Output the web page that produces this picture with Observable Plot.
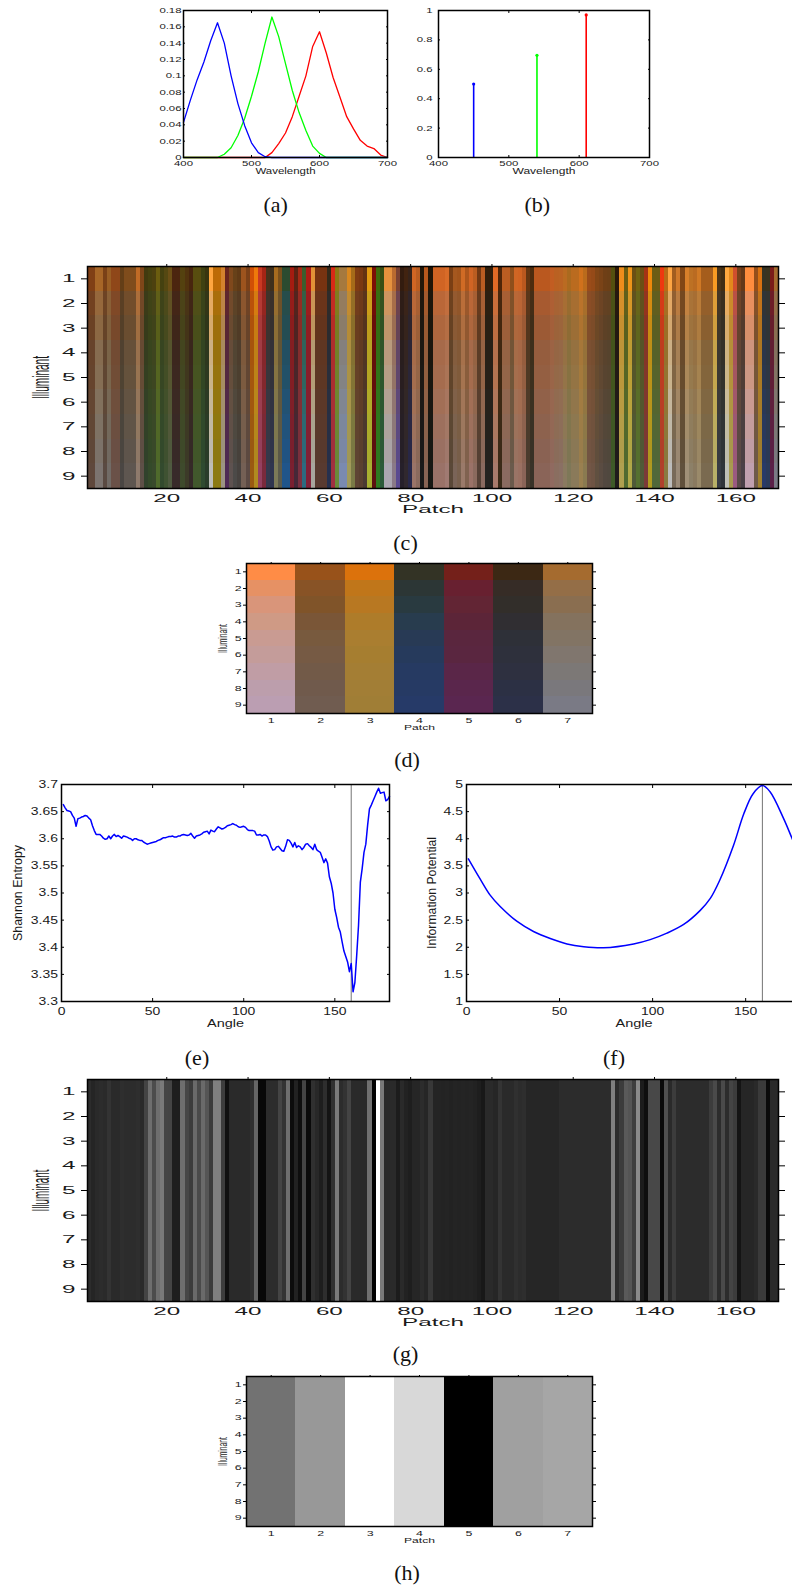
<!DOCTYPE html>
<html><head><meta charset="utf-8">
<script src="https://cdn.jsdelivr.net/npm/d3@7"></script>
<script src="https://cdn.jsdelivr.net/npm/@observablehq/plot@0.6"></script>
<style>
html,body{margin:0;padding:0;background:#fff;overflow:hidden;width:792px;height:1587px}
#page{position:relative;width:792px;height:1587px;overflow:hidden}
.cap{position:absolute;font-family:"Liberation Serif";font-size:22px;color:#111;transform:translate(-50%,-50%);white-space:nowrap}
</style></head><body><div id="page"></div>
<script>
// ---------- data ----------
const wavelengths = [400,410,420,430,440,450,460,470,480,490,500,510,520,530,540,550,560,570,580,590,600,610,620,630,640,650,660,670,680,690,700];
const sensorBlue  = [.043,.07,.095,.117,.143,.165,.14,.10,.066,.039,.018,.006,.001,0,0,0,0,0,0,0,0,0,0,0,0,0,0,0,0,0,0];
const sensorGreen = [0,0,0,0,0,0,.004,.012,.027,.048,.075,.105,.14,.172,.148,.115,.082,.055,.033,.014,.005,0,0,0,0,0,0,0,0,0,0];
const sensorRed   = [0,0,0,0,0,0,0,0,0,0,0,0,0,.006,.017,.03,.05,.075,.10,.136,.154,.128,.098,.074,.05,.035,.021,.014,.011,.003,0];
const stemX = [450,540,610];
const stemY = [.5,.695,.97];
const stemColor = ["#0000ff","#00ff00","#ff0000"];

// colour of each of the 170 patches under illuminant 9
const patchColors = `5f483c 5f483c 7c7470 7c7470 5a4a42 716b66 6a5148 6a5148 4a4643 5e5650
5e5650 5e5650 8e7a6c 5e5048 31422c 344a2a 394a2c 4f6a2c 334a2e 3f5232
4f5a40 382a2a 382a2a 3e4a2c 3c3a28 352a28 41582c 41582c 2f4a30 2a3c2a
bdbdb8 8c7a12 8c7a12 9c9484 4e2a55 5e5250 4c4a48 47423f 746055 5c4a44
9a5a12 b08a20 944060 7a2a3c 35394e 2f354f 7c7a58 5a5a4c 20558a 20558a
7a2030 452838 7a3040 2c6a80 802038 a8a69e 583a30 583a30 583a30 26304e
a03040 6a8a3a 7a8ab0 7a8ab0 a09a5a 7a7a46 5e4434 5a4030 4a3a32 a8b030
5c1010 2e7a20 2a5a3a aaa6b2 aaa6b2 8a7a88 5a4a90 26202a 30282e 28284a
9a7468 8a6a5e 1a1a1a 886454 181814 9a7268 9a7268 9a7268 a07a72 5a4838
7a6458 78604e 9a7a6a 806250 9a7268 8a6a5e 544036 8a6a60 242220 242220
a87a6c 3a2a18 8a6a60 8a6a60 6a5a4c 9a7466 9a7062 8a6458 4a3c30 383228
8a6458 8a6458 8a6458 8a6458 906a60 8a6e60 8a7064 8a7a60 7e7858 8a7a5a
8a7a5a 9a8050 8a7a50 725646 6e5444 605040 5a4c42 524840 50483f 3e5a28
201c1c b0a050 506a30 b0a848 4f5a38 557030 4f5a38 7a3a38 b09a20 50683a
50683a b0402c 8a7a40 bcbcbc 786a5a 9a8a78 60503c a09078 8c8068 8a7a60
9a8a6a 7a6a50 7a6a50 7a6a50 b8b068 383c44 30343a c0c0b8 a89a50 9a5a80
5a4a4a 4a4048 c0a0b0 c0a0b0 6e5a4a a08030 283a68 2a3a5a 5a2048 7a7a85`.split(/\s+/);

// how illuminants 1..9 scale a patch's red, green, blue relative to illuminant 9
const gainR = [1.35,1.21,1.13,1.08,1.07,1.05,1.02,1.0,1];
const gainG = [.88,.90,.90,.93,.95,.97,.98,.98,1];
const gainB = [.35,.54,.60,.71,.75,.83,.89,.94,1];

const patchGray = [0x2c,0x25,0x2a,0x2c,0x2a,0x33,0x2a,0x2a,0x2e,0x2c,
0x2c,0x2c,0x2e,0x2a,0x44,0x6e,0x4c,0x6e,0x7a,0x45,
0x44,0x1e,0x1e,0x6e,0x46,0x3c,0x6a,0x4a,0x6a,0x55,
0x3c,0x80,0x80,0x3e,0x11,0x2a,0x2a,0x2a,0x2a,0x2a,
0x30,0x66,0x08,0x08,0x2c,0x2c,0x2c,0x44,0x33,0x6e,
0x0c,0x22,0x0e,0x44,0x0a,0x30,0x28,0x1e,0x2e,0x14,
0x30,0x7a,0x2c,0x33,0x44,0x2a,0x2a,0x2a,0x2a,0x70,
0x00,0xff,0x7a,0x2a,0x2a,0x2a,0x1c,0x2a,0x22,0x1e,
0x26,0x26,0x2c,0x26,0x38,0x24,0x24,0x23,0x24,0x22,
0x24,0x23,0x24,0x23,0x24,0x22,0x1e,0x18,0x2a,0x2a,
0x26,0x34,0x2a,0x2a,0x2a,0x30,0x2c,0x2e,0x26,0x26,
0x26,0x26,0x26,0x26,0x26,0x26,0x2c,0x2c,0x2c,0x2c,
0x2c,0x2c,0x2c,0x2c,0x2c,0x2c,0x2c,0x2c,0x2c,0x80,
0x2c,0x3c,0x5a,0x55,0x3e,0x8a,0x1c,0x0e,0x48,0x48,
0x48,0x0a,0x50,0x2a,0x3c,0x2c,0x2c,0x2c,0x2c,0x2c,
0x2c,0x2c,0x2c,0x3c,0x4a,0x2c,0x4a,0x2c,0x44,0x3c,
0x14,0x26,0x26,0x26,0x2a,0x3a,0x3a,0x0a,0x2a,0x2a];

const sevenColors = [
 ["ff8c46","e69164","d9957a","cf9a85","c99b92","c49c9a","c09da5","bc9eac","bb9eb2"],
 ["98521a","885326","805429","7a5637","785a3e","765a44","725a48","705a4c","705c50"],
 ["dc720c","c0761a","b87822","ae7c2a","aa7e30","a67e30","a47e34","a27e36","a07e36"],
 ["333325","2c3635","293a40","283c4e","283a55","263a5c","263a62","263a64","263a68"],
 ["74201a","682030","622534","5c2538","5a263e","5a2640","5a2648","5a264c","5a2650"],
 ["3c2814","362c26","322e2a","302e32","2e3038","2e303c","2e3040","2c3044","2c3048"],
 ["a56b2f","946e47","8a6e50","84725e","827464","80766e","7c7876","7a787c","7a7a85"]];
const sevenGray = [0x72,0x98,0xff,0xd8,0x00,0xa0,0xa6];

const shannon = [3.663,3.657,3.652,3.651,3.650,3.643,3.638,3.623,3.637,3.638,3.640,3.641,3.643,3.642,3.638,3.635,3.624,3.615,3.608,3.608,
3.608,3.605,3.601,3.599,3.600,3.605,3.600,3.605,3.608,3.604,3.606,3.604,3.601,3.605,3.604,3.603,3.601,3.600,3.597,3.600,
3.600,3.598,3.597,3.597,3.594,3.592,3.590,3.591,3.592,3.593,3.594,3.595,3.597,3.598,3.600,3.602,3.602,3.603,3.604,3.604,
3.605,3.603,3.603,3.605,3.605,3.607,3.608,3.607,3.606,3.607,3.610,3.605,3.601,3.605,3.606,3.607,3.609,3.612,3.613,3.614,
3.609,3.616,3.614,3.613,3.618,3.622,3.620,3.618,3.619,3.621,3.624,3.625,3.626,3.628,3.626,3.625,3.622,3.621,3.622,3.623,
3.621,3.617,3.615,3.615,3.615,3.614,3.607,3.607,3.608,3.605,3.607,3.607,3.604,3.596,3.585,3.579,3.580,3.585,3.586,3.582,
3.578,3.577,3.586,3.598,3.597,3.592,3.585,3.593,3.584,3.587,3.585,3.580,3.584,3.590,3.591,3.587,3.584,3.580,3.590,3.580,
3.577,3.575,3.566,3.556,3.563,3.555,3.530,3.518,3.500,3.470,3.455,3.437,3.428,3.410,3.393,3.383,3.373,3.355,3.370,3.318,
3.335,3.385,3.440,3.520,3.545,3.575,3.590,3.625,3.655,3.662,3.670,3.678,3.686,3.693,3.684,3.685,3.686,3.670,3.672,3.678];
const potentialAngle = [1,7.3,12.7,18.1,27,36,45,54,63,73.6,89.8,98.7,107.7,116.7,125.6,131,136,143.5,149,154,159,163,170.4,175,180];
const potentialValue = [3.63,3.26,2.96,2.75,2.48,2.29,2.16,2.06,2.01,1.99,2.06,2.14,2.26,2.42,2.68,2.9,3.23,3.88,4.46,4.83,4.98,4.87,4.37,4.0,3.6];
const bestAngle = 159;

const rowTicks = [1,2,3,4,5,6,7,8,9];
const patchTicks = [20,40,60,80,100,120,140,160];
const sevenTicks = [1,2,3,4,5,6,7];
const captions = [["(a)",275.7,205],["(b)",537.3,205],["(c)",405.5,543],["(d)",407,760],["(e)",197,1058],["(f)",614,1058],["(g)",405.5,1354],["(h)",407,1573]];

// ---------- helpers ----------
const hex2 = h => [parseInt(h.slice(0,2),16),parseInt(h.slice(2,4),16),parseInt(h.slice(4,6),16)];
const clamp = v => Math.max(0,Math.min(255,Math.round(v)));
const gray = g => `rgb(${g},${g},${g})`;
const page = document.getElementById("page");
const MT = 8, MB = 40, MR = 12;

function panel(f, o, marks){
  const svg = Plot.plot({
    width: f.r + MR, height: f.b - f.t + MT + MB,
    marginLeft: f.l, marginRight: MR, marginTop: MT, marginBottom: MB,
    x:{domain:o.xd}, y:{domain:o.yd}, color:{type:"identity"},
    style:{position:"absolute",left:"0px",top:(f.t-MT)+"px",maxWidth:"none",background:"transparent",
           fontFamily:"Liberation Sans",color:"#1a1a1a",overflow:"visible"},
    marks:[
      ...marks,
      Plot.frame({stroke:"#000",strokeWidth:1.5}),
      Plot.axisX(o.xt,{anchor:"bottom",tickSize:0,tickPadding:o.xp,fontSize:o.fs,label:null,tickFormat:o.xf||(d=>String(d))}),
      Plot.axisY(o.yt,{anchor:"left",tickSize:0,tickPadding:o.yp,fontSize:o.fs,label:null,tickFormat:o.yf||(d=>String(d))}),
      Plot.axisX(o.xt,{anchor:"top",tickSize:o.tx,fill:"none",stroke:"#000",label:null}),
      Plot.axisY(o.yt,{anchor:"left",tickSize:o.ty,fill:"none",stroke:"#000",label:null}),
      Plot.axisY(o.yt,{anchor:"right",tickSize:o.ty,fill:"none",stroke:"#000",label:null}),
      ...(o.tb?[Plot.axisX(o.xt,{anchor:"bottom",tickSize:o.tb,fill:"none",stroke:"#000",label:null})]:[]),
      Plot.text([o.xl.text],{frameAnchor:"bottom",dy:o.xl.cy-f.b,lineAnchor:"middle",fontSize:o.xl.fs}),
      ...(o.yl?[Plot.text([o.yl.text],{frameAnchor:"left",dx:o.yl.cx-f.l,rotate:-90,textAnchor:"middle",lineAnchor:"middle",fontSize:o.yl.fs})]:[])
    ]
  });
  page.appendChild(svg);
  // the reference's type is stretched or squeezed: keep real text, fit its length
  svg.querySelectorAll('g[aria-label$="tick label"] text').forEach(t=>{
    const n=t.getComputedTextLength();
    if(n>0){t.setAttribute("textLength",n*o.st);t.setAttribute("lengthAdjust","spacingAndGlyphs");}
  });
  svg.querySelectorAll("text").forEach(t=>{
    const s=t.textContent;
    const len = s===o.xl.text ? o.xl.len : (o.yl && s===o.yl.text ? o.yl.len : 0);
    if(len){t.setAttribute("textLength",len);t.setAttribute("lengthAdjust","spacingAndGlyphs");}
  });
  return svg;
}
const cellMark = cells => Plot.rect(cells,{x1:d=>d.p-.5,x2:d=>d.p+.5,y1:d=>d.i-.5,y2:d=>d.i+.5,fill:d=>d.c,shapeRendering:"crispEdges"});

// ---------- cells ----------
const colorCells = patchColors.flatMap((h,k)=>rowTicks.map((i,r)=>{
  const [R,G,B]=hex2(h);
  return {p:k+1,i,c:`rgb(${clamp(R*gainR[r])},${clamp(G*gainG[r])},${clamp(B*gainB[r])})`};
}));
const grayCells = patchGray.flatMap((g,k)=>rowTicks.map(i=>({p:k+1,i,c:gray(g)})));
const sevenColorCells = sevenColors.flatMap((col,k)=>col.map((h,r)=>({p:k+1,i:r+1,c:"#"+h})));
const sevenGrayCells = sevenGray.flatMap((g,k)=>rowTicks.map(i=>({p:k+1,i,c:gray(g)})));

// ---------- panels ----------
const sensorData = wavelengths.map((w,i)=>({w,r:sensorRed[i],g:sensorGreen[i],b:sensorBlue[i]}));
panel({l:183,r:387,t:10,b:157},{xd:[400,700],yd:[0,.18],xt:[400,500,600,700],yt:d3.range(0,10).map(i=>+(i*.02).toFixed(2)),
  fs:8,st:1.42,xp:3,yp:2,tx:-2,ty:-2,tb:-2,xl:{text:"Wavelength",cy:171,fs:8.5,len:60}},[
  Plot.line(sensorData,{x:"w",y:"r",stroke:"#ff0000",strokeWidth:1.3}),
  Plot.line(sensorData,{x:"w",y:"g",stroke:"#00ff00",strokeWidth:1.3}),
  Plot.line(sensorData,{x:"w",y:"b",stroke:"#0000ff",strokeWidth:1.3})]);

const stems = stemX.map((x,i)=>({x,y:stemY[i],c:stemColor[i]}));
panel({l:438,r:649,t:10,b:157},{xd:[400,700],yd:[0,1],xt:[400,500,600,700],yt:[0,.2,.4,.6,.8,1],
  fs:8,st:1.42,xp:3,yp:6,tx:-2,ty:-2,tb:-2,xl:{text:"Wavelength",cy:171,fs:8.5,len:63}},[
  Plot.ruleX(stems,{x:"x",y1:0,y2:"y",stroke:"c",strokeWidth:1.6}),
  Plot.dot(stems,{x:"x",y:"y",r:1.6,fill:"c"})]);

const bigOpts = ()=>({xd:[.5,170.5],yd:[9.5,.5],xt:patchTicks,yt:rowTicks,fs:11,st:2.2,xp:6,yp:12,tx:3,ty:6});
panel({l:87,r:778,t:266,b:488},{...bigOpts(),xl:{text:"Patch",cy:509,fs:11,len:62},yl:{text:"Illuminant",cx:40.7,fs:24,len:43}},[cellMark(colorCells)]);

const smallOpts = ()=>({xd:[.5,7.5],yd:[9.5,.5],xt:sevenTicks,yt:rowTicks,fs:6.5,st:1.9,xp:4.6,yp:5,tx:2,ty:3});
panel({l:246,r:592,t:563,b:713},{...smallOpts(),xl:{text:"Patch",cy:727.7,fs:7,len:31},yl:{text:"Illuminant",cx:222.7,fs:12,len:29}},[cellMark(sevenColorCells)]);

const shannonData = shannon.map((v,i)=>({a:i+1,v}));
panel({l:61,r:389,t:784,b:1001},{xd:[0,180],yd:[3.3,3.7],xt:[0,50,100,150],yt:d3.range(0,9).map(i=>+(3.3+i*.05).toFixed(2)),
  fs:10.5,st:1.33,xp:6.2,yp:3.5,tx:-3,ty:-3,tb:-3,xl:{text:"Angle",cy:1023,fs:11,len:37},yl:{text:"Shannon Entropy",cx:18,fs:12,len:96}},[
  Plot.ruleX([bestAngle],{stroke:"#808080",strokeWidth:1.1}),
  Plot.line(shannonData,{x:"a",y:"v",stroke:"#0000ff",strokeWidth:1.5})]);

const potentialData = potentialAngle.map((a,i)=>({a,v:potentialValue[i]}));
panel({l:466,r:801,t:784,b:1001},{xd:[0,180],yd:[1,5],xt:[0,50,100,150],yt:d3.range(0,9).map(i=>1+i*.5),
  fs:10.5,st:1.33,xp:6.2,yp:3.5,tx:-3,ty:-3,tb:-3,xl:{text:"Angle",cy:1023,fs:11,len:37},yl:{text:"Information Potential",cx:431.7,fs:12,len:112}},[
  Plot.ruleX([bestAngle],{stroke:"#808080",strokeWidth:1.1}),
  Plot.line(potentialData,{x:"a",y:"v",stroke:"#0000ff",strokeWidth:1.5,curve:"catmull-rom"})]);

panel({l:87,r:778,t:1079,b:1301},{...bigOpts(),xl:{text:"Patch",cy:1322,fs:11,len:62},yl:{text:"Illuminant",cx:40.7,fs:24,len:42}},[cellMark(grayCells)]);
panel({l:246,r:592,t:1376,b:1526},{...smallOpts(),xl:{text:"Patch",cy:1540,fs:7,len:31},yl:{text:"Illuminant",cx:222.7,fs:12,len:29}},[cellMark(sevenGrayCells)]);

captions.forEach(([t,x,y])=>{
  const d=document.createElement("div");d.className="cap";d.textContent=t;d.style.left=x+"px";d.style.top=y+"px";page.appendChild(d);
});
</script></body></html>
